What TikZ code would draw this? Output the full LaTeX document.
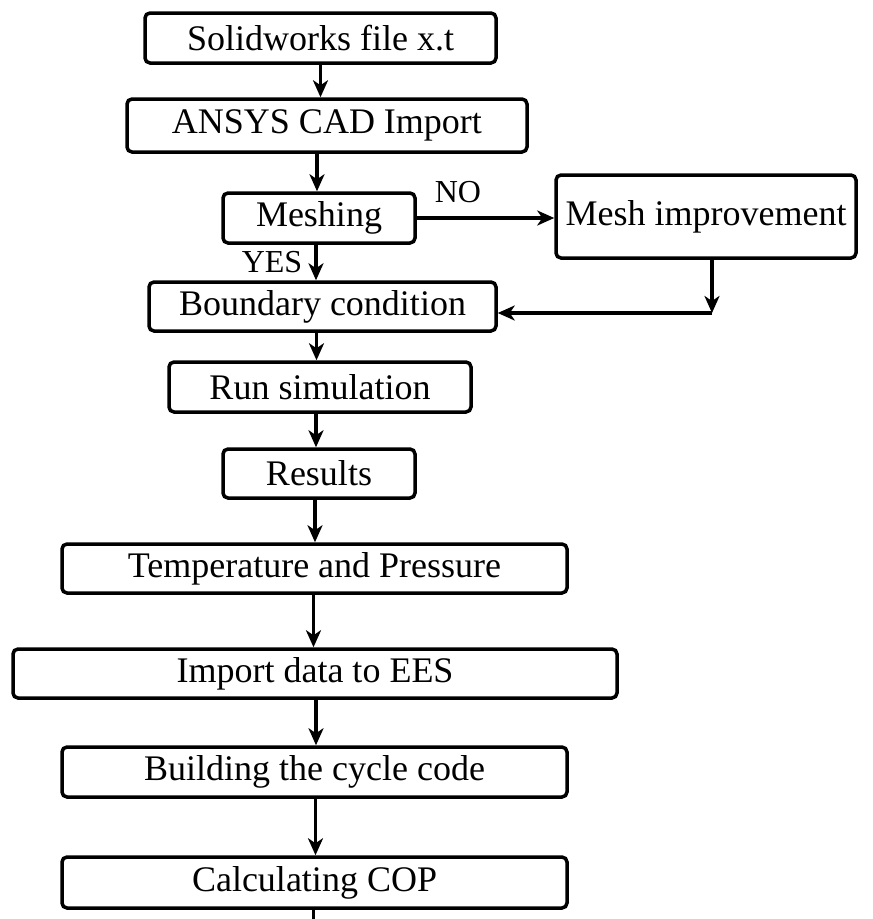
\documentclass[tikz,border=0pt]{standalone}
\usepackage{fontspec}
\setmainfont{Liberation Serif}
\usetikzlibrary{arrows.meta}

\tikzset{
	stage/.style={shape=rectangle,draw=black,line width=3.5pt,rounded corners=5pt,inner sep=0pt,align=center,font=\fontsize{36}{40}\selectfont},
	flow/.style={line width=3.5pt,-{Stealth[length=17pt,width=15pt,inset=5pt]}},
	answer/.style={inner sep=0pt,font=\fontsize{32}{36}\selectfont}
}

\begin{document}
\begin{tikzpicture}[x=1pt,y=-1pt]
	\useasboundingbox (0,0) rectangle (873,919);

	\node[stage,minimum width=351pt,minimum height=50pt] (sw)  at (320.5, 38)   {Solidworks file x.t};
	\node[stage,minimum width=400pt,minimum height=53pt] (cad) at (327, 125.5)  {ANSYS CAD Import};
	\node[stage,minimum width=192pt,minimum height=50pt] (mesh) at (319, 218)   {Meshing};
	\node[stage,minimum width=300pt,minimum height=83pt] (mi)  at (706, 216.5)  {Mesh improvement};
	\node[stage,minimum width=347pt,minimum height=49pt] (bc)  at (322.5, 306.5) {Boundary condition};
	\node[stage,minimum width=302pt,minimum height=50pt] (run) at (320, 387)    {Run simulation};
	\node[stage,minimum width=192pt,minimum height=49pt] (res) at (319, 473.5)  {Results};
	\node[stage,minimum width=505pt,minimum height=49pt] (tp)  at (314.5, 568.5) {Temperature and Pressure};
	\node[stage,minimum width=604pt,minimum height=49pt] (ees) at (315, 673.5)  {Import data to EES};
	\node[stage,minimum width=505pt,minimum height=50pt] (cyc) at (314.5, 772)  {Building the cycle code};
	\node[stage,minimum width=505pt,minimum height=51pt] (cop) at (314.5, 882.5) {Calculating COP};

	\node[answer] (no)  at (458, 192) {NO};
	\node[answer] (yes) at (272, 262) {YES};

	\coordinate (turn) at (712, 313);
	\coordinate (stub) at (313, 919);

	\draw[flow] (sw.south) -- (sw.south |- cad.north);
	\draw[flow] ([xshift=-10pt]cad.south) -- ([xshift=-10pt]cad.south |- mesh.north);
	\draw[flow] (mesh.east) -- (mesh.east -| mi.west);
	\draw[flow] (mi.south -| turn) -- (turn);
	\draw[flow] (turn) -- (turn -| bc.east);
	\draw[flow] ([xshift=-3pt]mesh.south) -- ([xshift=-3pt]mesh.south |- bc.north);
	\draw[flow] ([xshift=-6pt]bc.south) -- ([xshift=-6pt]bc.south |- run.north);
	\draw[flow] ([xshift=-4pt]run.south) -- ([xshift=-4pt]run.south |- res.north);
	\draw[flow] ([xshift=-4pt]res.south) -- ([xshift=-4pt]res.south |- tp.north);
	\draw[flow] ([xshift=-1pt]tp.south) -- ([xshift=-1pt]tp.south |- ees.north);
	\draw[flow] ([xshift=1pt]ees.south) -- ([xshift=1pt]ees.south |- cyc.north);
	\draw[flow] ([xshift=1pt]cyc.south) -- ([xshift=1pt]cyc.south |- cop.north);
	\draw[line width=3pt] ([yshift=3pt]cop.south -| stub) -- (stub);

\end{tikzpicture}
\end{document}
